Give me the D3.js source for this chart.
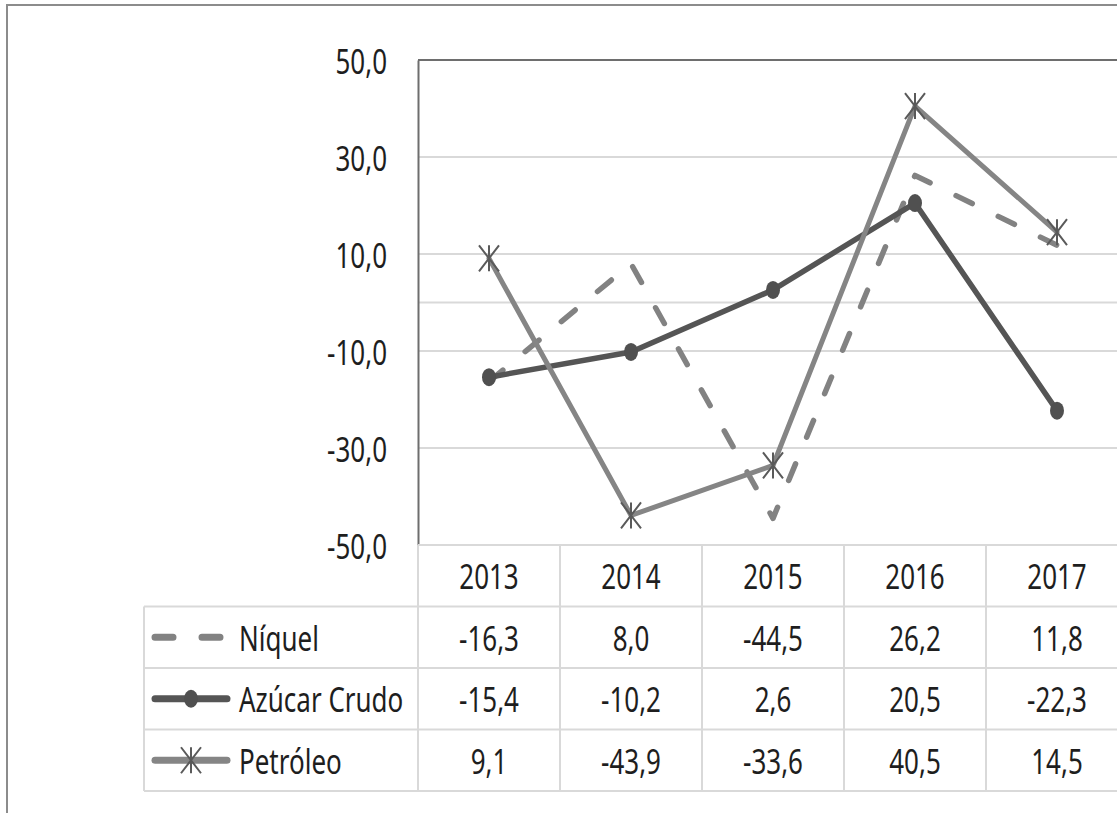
<!DOCTYPE html>
<html>
<head>
<meta charset="utf-8">
<script src="https://cdn.jsdelivr.net/npm/d3@7"></script>
<style>
  html, body { margin: 0; padding: 0; background: #fff; }
  svg { display: block; }
  text { font-family: "Noto Sans", "Open Sans", sans-serif; fill: #1e1e1e; }
</style>
</head>
<body>
<svg id="chart" width="1117" height="813"></svg>
<script>
// Years shown on the category axis / data table header
const years = ["2013", "2014", "2015", "2016", "2017"];
// Series names (legend / table row labels)
const seriesNames = ["Níquel", "Azúcar Crudo", "Petróleo"];
// Annual variation (%) per series
const niquel = [-16.3, 8.0, -44.5, 26.2, 11.8];
const azucar = [-15.4, -10.2, 2.6, 20.5, -22.3];
const petroleo = [9.1, -43.9, -33.6, 40.5, 14.5];
// Value axis ticks
const yTicks = [50, 30, 10, -10, -30, -50];
const gridValues = [30, 10, 0, -10, -30];

const svg = d3.select("#chart");
const W = 1117, H = 813;

const plotLeft = 418, plotTop = 60, plotBottom = 545, colW = 142;
const tableLeft = 144, rowH = 61.5;
const textScaleY = 1.34;
const fontSize = 26;

const x = d3.scaleBand().domain(years).range([plotLeft, plotLeft + colW * years.length]).padding(0);
const y = d3.scaleLinear().domain([-50, 50]).range([plotBottom, plotTop]);
const cx = d => x(d) + x.bandwidth() / 2;

const fmt = v => d3.format(".1f")(v).replace(".", ",").replace("−", "-");

function label(g, tx, ty, str, anchor) {
  g.append("text")
    .attr("transform", `translate(${tx},${ty}) scale(1,${textScaleY})`)
    .attr("text-anchor", anchor || "middle")
    .attr("dominant-baseline", "central")
    .attr("font-size", fontSize)
    .text(str);
}

// Outer frame
svg.append("path")
  .attr("d", `M7,${H} L7,5 L${W},5`)
  .attr("fill", "none").attr("stroke", "#8c8c8c").attr("stroke-width", 2);

// Gridlines
svg.append("g").selectAll("line").data(gridValues).join("line")
  .attr("x1", plotLeft).attr("x2", W)
  .attr("y1", d => y(d)).attr("y2", d => y(d))
  .attr("stroke", "#d9d9d9").attr("stroke-width", 2);

// Top border and value axis
svg.append("line").attr("x1", plotLeft).attr("x2", W)
  .attr("y1", y(50)).attr("y2", y(50))
  .attr("stroke", "#6e6e6e").attr("stroke-width", 2);

const yAxis = d3.axisLeft(y).tickValues(yTicks).tickSize(0).tickFormat(fmt);
const yG = svg.append("g").attr("transform", `translate(${plotLeft},0)`).call(yAxis);
yG.select(".domain").attr("stroke", "#6e6e6e").attr("stroke-width", 2);
yG.selectAll(".tick text").remove();
yTicks.forEach(v => label(svg, plotLeft - 31, y(v), fmt(v), "end"));

// Data table
const tbl = svg.append("g");
const tableLine = "#d9d9d9";
const rowsTop = plotBottom + rowH;
const tableBottom = rowsTop + rowH * seriesNames.length;
// horizontal rules
tbl.append("line").attr("x1", plotLeft).attr("x2", W).attr("y1", plotBottom).attr("y2", plotBottom)
  .attr("stroke", tableLine).attr("stroke-width", 2);
for (let i = 0; i <= seriesNames.length; i++) {
  const yy = rowsTop + rowH * i;
  tbl.append("line").attr("x1", tableLeft).attr("x2", W).attr("y1", yy).attr("y2", yy)
    .attr("stroke", tableLine).attr("stroke-width", 2);
}
// vertical rules
tbl.append("line").attr("x1", tableLeft).attr("x2", tableLeft).attr("y1", rowsTop).attr("y2", tableBottom)
  .attr("stroke", tableLine).attr("stroke-width", 2);
years.forEach(yr => {
  tbl.append("line").attr("x1", x(yr)).attr("x2", x(yr)).attr("y1", plotBottom).attr("y2", tableBottom)
    .attr("stroke", tableLine).attr("stroke-width", 2);
});
// header
years.forEach(yr => label(tbl, cx(yr), plotBottom + rowH / 2, yr));

const series = [
  { name: seriesNames[0], values: niquel, color: "#828282", width: 5.5, dash: "18,29", marker: "none" },
  { name: seriesNames[1], values: azucar, color: "#555555", width: 5.5, dash: null, marker: "circle" },
  { name: seriesNames[2], values: petroleo, color: "#858585", width: 5, dash: null, marker: "star" }
];

function drawMarker(g, type, px, py) {
  if (type === "circle") {
    g.append("ellipse").attr("cx", px).attr("cy", py).attr("rx", 7).attr("ry", 9)
      .attr("fill", "#505050");
  } else if (type === "star") {
    const w = 10, h = 13;
    g.append("path")
      .attr("d", `M${px},${py - h} L${px},${py + h} M${px - w},${py - h} L${px + w},${py + h} M${px + w},${py - h} L${px - w},${py + h}`)
      .attr("stroke", "#5a5a5a").attr("stroke-width", 2).attr("fill", "none");
  }
}

// table rows with legend keys
series.forEach((s, i) => {
  const cy = rowsTop + rowH * i + rowH / 2;
  const key = tbl.append("g");
  if (s.dash) {
    key.append("line").attr("x1", 155).attr("x2", 222).attr("y1", cy).attr("y2", cy)
      .attr("stroke", s.color).attr("stroke-width", 7).attr("stroke-linecap", "round")
      .attr("stroke-dasharray", s.dash);
  } else {
    key.append("line").attr("x1", 155).attr("x2", 227).attr("y1", cy).attr("y2", cy)
      .attr("stroke", s.color).attr("stroke-width", 7).attr("stroke-linecap", "round");
  }
  drawMarker(key, s.marker, 191, cy);
  label(tbl, 239, cy, s.name, "start");
  s.values.forEach((v, j) => label(tbl, cx(years[j]), cy, fmt(v)));
});

// Lines
const line = d3.line().x((d, i) => cx(years[i])).y(d => y(d));
const plot = svg.append("g");
series.forEach(s => {
  const g = plot.append("g");
  g.append("path").datum(s.values).attr("d", line)
    .attr("fill", "none").attr("stroke", s.color).attr("stroke-width", s.width)
    .attr("stroke-linejoin", "round").attr("stroke-linecap", "round")
    .attr("stroke-dasharray", s.dash);
  s.values.forEach((v, i) => drawMarker(g, s.marker, cx(years[i]), y(v)));
});
</script>
</body>
</html>
